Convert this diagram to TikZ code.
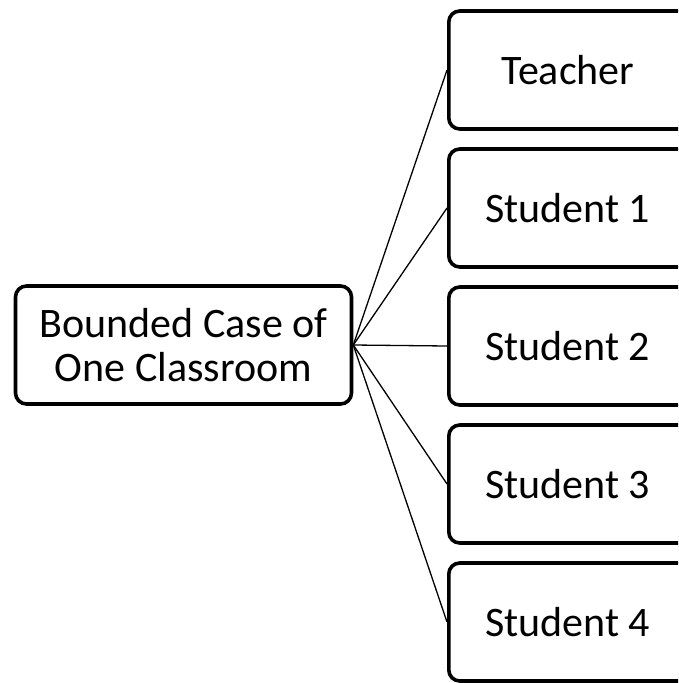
\documentclass[tikz,border=0pt]{standalone}
\usepackage{fontspec}
\setmainfont{Carlito}
\newcommand{\leaftext}[1]{\makebox[238pt]{#1}\hspace*{24pt}}
\begin{document}
\begin{tikzpicture}[x=1pt,y=-1pt,
  box/.style={draw=black, line width=3.6pt, rounded corners=11pt, fill=white,
    minimum height=118pt, inner sep=0pt, align=center,
    font=\fontsize{42}{44}\selectfont},
  centerbox/.style={box, minimum width=336pt},
  leafbox/.style={box, anchor=west},
  conn/.style={draw=black, line width=1.3pt}]
\useasboundingbox (0,0) rectangle (678,683);
\clip (0,0) rectangle (678,683);
\node[centerbox] (c) at (183.5,345) {Bounded Case of\\One Classroom};
\node[leafbox] (t) at (447,70) {\leaftext{Teacher}};
\node[leafbox] (s1) at (447,208) {\leaftext{Student 1}};
\node[leafbox] (s2) at (447,346) {\leaftext{Student 2}};
\node[leafbox] (s3) at (447,484) {\leaftext{Student 3}};
\node[leafbox] (s4) at (447,622) {\leaftext{Student 4}};
\foreach \n in {t,s1,s2,s3,s4}{
  \draw[conn] (c.east) -- (\n.west);
}
\end{tikzpicture}
\end{document}
